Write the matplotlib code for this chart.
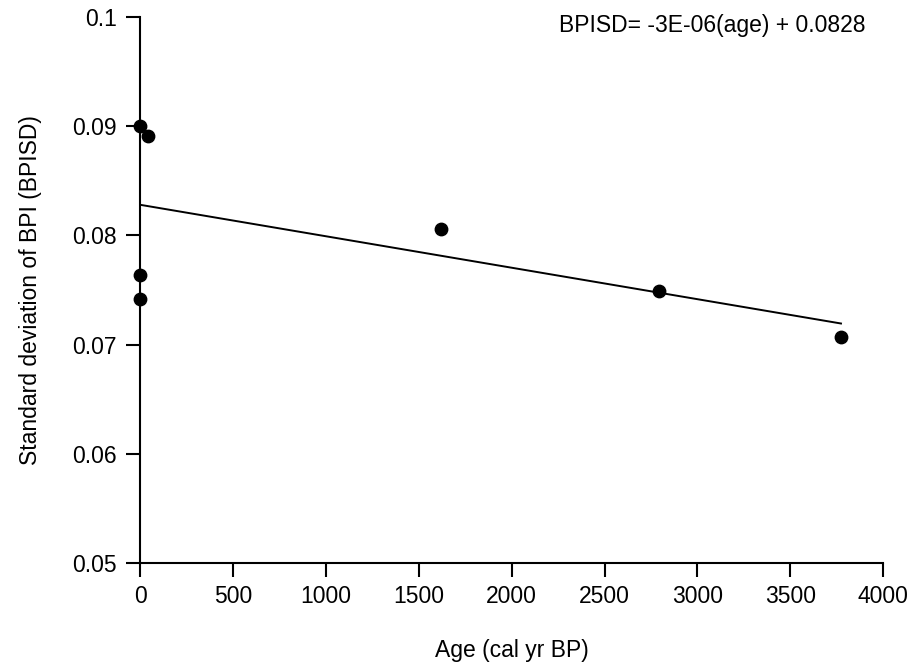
import numpy as np
import matplotlib
matplotlib.use("Agg")
import matplotlib.pyplot as plt

plt.rcParams["font.family"] = ["Liberation Sans", "DejaVu Sans"]

age = [0, 40, 0, 0, 1620, 2793, 3774]
bpisd = [0.0900, 0.0891, 0.0764, 0.0742, 0.0806, 0.0749, 0.0707]

x_ticks = [0, 500, 1000, 1500, 2000, 2500, 3000, 3500, 4000]
y_ticks = [0.05, 0.06, 0.07, 0.08, 0.09, 0.1]
y_labels = ["0.05", "0.06", "0.07", "0.08", "0.09", "0.1"]

# linear fit
slope, intercept = np.polyfit(age, bpisd, 1)
fit_x = np.array([0, max(age)])
fit_y = slope * fit_x + intercept

fig = plt.figure(figsize=(9.14, 6.64), dpi=100)
ax = fig.add_axes([0.1537, 0.1521, 0.8123, 0.8223])

ax.plot(fit_x, fit_y, color="black", linewidth=1.4, zorder=2)
ax.scatter(age, bpisd, s=80, color="black", zorder=3, clip_on=False)

ax.set_xlim(0, 4000)
ax.set_ylim(0.05, 0.1)
ax.set_xticks(x_ticks)
ax.set_yticks(y_ticks)
ax.set_yticklabels(y_labels)

for side in ["top", "right"]:
    ax.spines[side].set_visible(False)
for side in ["left", "bottom"]:
    ax.spines[side].set_linewidth(1.5)

ax.tick_params(direction="out", length=10, width=1.5, labelsize=16.5)
ax.tick_params(axis="x", pad=6)
ax.tick_params(axis="y", pad=7)

ax.set_xlabel("Age (cal yr BP)", fontsize=16.5, labelpad=22)
ax.set_ylabel("Standard deviation of BPI (BPISD)", fontsize=16.5, labelpad=22)

ax.text(0.976, 0.985, "BPISD= -3E-06(age) + 0.0828", transform=ax.transAxes,
        ha="right", va="center", fontsize=16.5)

fig.savefig("out.png", dpi=100)
